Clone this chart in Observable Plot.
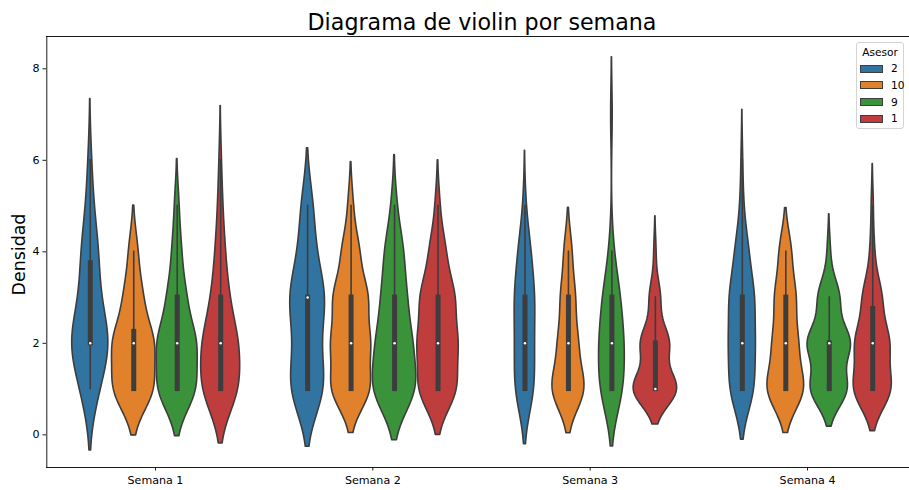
<!DOCTYPE html>
<html>
<head>
<meta charset="utf-8">
<script src="https://cdn.jsdelivr.net/npm/d3@7"></script>
<script src="https://cdn.jsdelivr.net/npm/@observablehq/plot@0.6"></script>
<style>
  body { margin: 0; background: #fff; }
  #chart { position: relative; width: 909px; height: 490px; font-family: "DejaVu Sans", sans-serif; overflow: hidden; }
  #chart svg { position: absolute; left: 0; top: 0; }
  .legend { position: absolute; left: 856px; top: 42px; width: 48px; height: 87px; box-sizing: border-box;
            border: 1px solid #d4d4d4; border-radius: 3px; background: rgba(255,255,255,0.8);
            font-family: "DejaVu Sans", sans-serif; font-size: 10.6px; color: #000; }
  .legend .ttl { position: absolute; left: 0; width: 100%; top: 3px; text-align: center; line-height: 13px; }
  .legend .item { position: absolute; left: 3px; height: 13px; line-height: 13px; }
  .legend .sw { position: absolute; left: 0; top: 2.5px; width: 23px; height: 8px; box-sizing: border-box; border: 1px solid #3d3d3d; }
  .legend .lb { position: absolute; left: 31px; top: 0; white-space: nowrap; }
</style>
</head>
<body>
<div id="chart"></div>
<script>
// Weeks on the x axis and advisors (hue levels)
const weeks = ["Semana 1", "Semana 2", "Semana 3", "Semana 4"];
const asesores = ["2", "10", "9", "1"];
const colors = ["#3274a1", "#e1812c", "#3a923a", "#c03d3e"];

// Number of observations with value 1, 2, 3, ... for each advisor (order: 2, 10, 9, 1)
const semana1 = [[5, 12, 5, 5, 2, 1], [9, 9, 4, 2], [17, 17, 8, 4, 2], [16, 15, 7, 4, 2, 1]];
const semana2 = [[12, 7, 12, 5, 4], [23, 22, 20, 10, 3], [17, 13, 9, 7, 2], [17, 17, 15, 7, 2]];
const semana3 = [[8, 7, 8, 5, 1], [21, 12, 9, 5], [11, 11, 8, 2, 0, 0, 1], [20, 13, 5, 1]];
const semana4 = [[15, 15, 15, 8, 2, 1], [22, 14, 12, 7], [12, 14, 7, 1], [18, 16, 9, 2, 1]];

const titulo = "Diagrama de violin por semana";
const etiquetaY = "Densidad";
const yTicks = [0, 2, 4, 6, 8];
const yDomain = [-0.714, 8.706];
const xDomain = [-0.5, 3.5];

const gray = "#3d3d3d";
const semanas = [semana1, semana2, semana3, semana4];

// Gaussian KDE (Scott's rule, cut = 2, 100 grid points) plus box statistics
function violin(counts) {
  const values = counts.flatMap((c, i) => Array(c).fill(i + 1));
  const n = values.length;
  const bw = Math.pow(n, -0.2) * d3.deviation(values);
  const lo = d3.min(values) - 2 * bw, hi = d3.max(values) + 2 * bw;
  const k = 1 / (n * bw * Math.sqrt(2 * Math.PI));
  const grid = d3.range(100).map(i => lo + (hi - lo) * i / 99);
  const density = grid.map(y => k * d3.sum(values, v => Math.exp(-0.5 * ((y - v) / bw) ** 2)));
  const q1 = d3.quantile(values, 0.25), med = d3.quantile(values, 0.5), q3 = d3.quantile(values, 0.75);
  const lim = 1.5 * (q3 - q1);
  const h1 = d3.min(values.filter(v => v >= q1 - lim));
  const h2 = d3.max(values.filter(v => v <= q3 + lim));
  return {grid, density, q1, med, q3, h1, h2};
}

// Dodge the four advisors inside each week (total width 0.8)
const dodge = 0.8 / asesores.length;
const offsets = asesores.map((_, j) => j * dodge - (0.8 - dodge) / 2);

const outline = [];
const boxes = [];
semanas.forEach((grupo, w) => {
  const vs = grupo.map(violin);
  const peak = d3.max(vs, v => d3.max(v.density));
  vs.forEach((v, j) => {
    const center = w + offsets[j];
    const key = `${w}-${j}`;
    v.grid.forEach((y, i) => {
      const half = (dodge / 2) * v.density[i] / peak;
      outline.push({key, asesor: asesores[j], y, x1: center - half, x2: center + half});
    });
    boxes.push({center, q1: v.q1, q3: v.q3, med: v.med, h1: v.h1, h2: v.h2});
  });
});

const chart = Plot.plot({
  width: 909,
  height: 490,
  marginLeft: 46,
  marginRight: 0,
  marginTop: 36,
  marginBottom: 23,
  style: {fontFamily: "DejaVu Sans, sans-serif", fontSize: "11px", color: "#000", background: "transparent"},
  x: {domain: xDomain, range: [46.3, 915.7]},
  y: {domain: yDomain},
  color: {domain: asesores, range: colors},
  marks: [
    Plot.areaX(outline, {y: "y", x1: "x1", x2: "x2", z: "key", fill: "asesor", stroke: gray,
      strokeWidth: 1.6, strokeLinejoin: "round", curve: "linear"}),
    Plot.ruleX(boxes, {x: "center", y1: "h1", y2: "h2", stroke: gray, strokeWidth: 1.6, strokeLinecap: "square"}),
    Plot.ruleX(boxes, {x: "center", y1: "q1", y2: "q3", stroke: gray, strokeWidth: 5, strokeLinecap: "square"}),
    Plot.dot(boxes, {x: "center", y: "med", r: 1.25, fill: "white", stroke: null}),
    Plot.ruleX([xDomain[0]], {stroke: "#000", strokeWidth: 0.9}),
    Plot.ruleY([yDomain[0]], {stroke: "#000", strokeWidth: 0.9}),
    Plot.ruleY([yDomain[1]], {stroke: "#000", strokeWidth: 0.9}),
    Plot.axisX({ticks: [0, 1, 2, 3], tickFormat: i => weeks[i], tickSize: 3.5, tickPadding: 5.5,
      fontSize: 11.1, label: null, strokeWidth: 0.9}),
    Plot.axisY({ticks: yTicks, tickSize: 3.5, tickPadding: 3.5, fontSize: 11.1, label: null, strokeWidth: 0.9}),
    Plot.text([titulo], {frameAnchor: "top", text: d => d, dx: 4, dy: -6.7, lineAnchor: "bottom", fontSize: 22.2}),
    Plot.text([etiquetaY], {frameAnchor: "left", text: d => d, rotate: -90, dx: -26.6, dy: 2.5,
      textAnchor: "middle", lineAnchor: "middle", fontSize: 17.4})
  ]
});

const root = document.getElementById("chart");
root.appendChild(chart);

// Legend for the advisors
const legend = document.createElement("div");
legend.className = "legend";
legend.innerHTML = `<div class="ttl">Asesor</div>` + asesores.map((a, j) =>
  `<div class="item" style="top:${19 + j * 16.8}px"><span class="sw" style="background:${colors[j]}"></span><span class="lb">${a}</span></div>`
).join("");
root.appendChild(legend);
</script>
</body>
</html>
